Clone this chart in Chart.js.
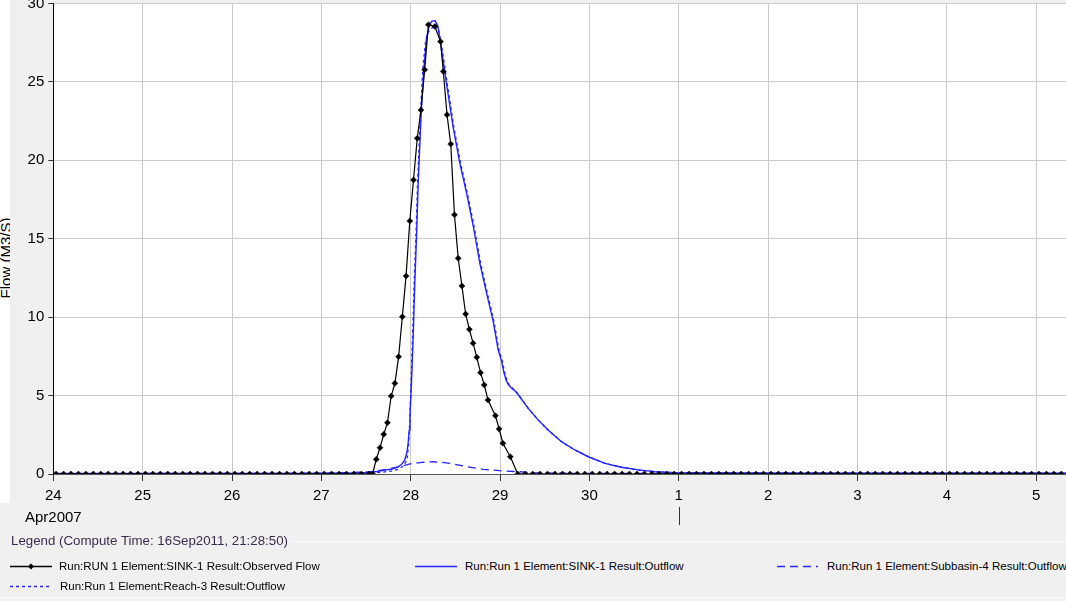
<!DOCTYPE html>
<html>
<head>
<meta charset="utf-8">
<script src="https://cdn.jsdelivr.net/npm/chart.js@4.4.1/dist/chart.umd.min.js"></script>
<style>
  html, body { margin: 0; padding: 0; }
  body { width: 1066px; height: 601px; overflow: hidden; background: #f0f0f0; position: relative; font-family: 'Liberation Sans', Arial, sans-serif; }
  #strip { position: absolute; left: 0; top: 0; width: 10px; height: 503px; background: #fff; overflow: hidden; }
  #ytitle { position: absolute; left: 6px; top: 258px; transform: translate(-50%, -50%) rotate(-90deg); white-space: nowrap; line-height: 18px; color: #000; }
  #wrap { position: absolute; left: 0; top: -20px; width: 1066px; height: 560px; }
  #apr { position: absolute; left: 25px; top: 508px; line-height: 18px; color: #000; }
  #legtitle { position: absolute; left: 11px; top: 533px; font-size: 13.3px; line-height: 16px; color: #3d2b4f; white-space: nowrap; }
  #legrule { position: absolute; left: 291px; right: 0; top: 541px; height: 1px; background: #fbfbfb; }
  #legbottom { position: absolute; left: 0; right: 0; top: 597px; height: 1px; background: #fcfcfc; }
  .item { position: absolute; height: 14px; white-space: nowrap; font-size: 11.5px; line-height: 14px; color: #000; }
  .item svg { position: absolute; left: 0; top: 0; }
  .item span { position: absolute; top: 0; }
</style>
</head>
<body>
<div id="strip"><div id="ytitle">Flow (M3/S)</div></div>
<div id="wrap"><canvas id="chart" width="1066" height="560"></canvas></div>
<div id="apr">Apr2007</div>
<div id="legtitle">Legend (Compute Time: 16Sep2011, 21:28:50)</div>
<div id="legrule"></div>
<div id="legbottom"></div>
<div id="legend"></div>
<script>
// hours after 24Apr2007 00:00
const dayLabels = ['24', '25', '26', '27', '28', '29', '30', '1', '2', '3', '4', '5'];
const monthLabel = 'Apr2007';
const monthStartHour = 168; // 1 May
const seriesNames = [
  'Run:RUN 1 Element:SINK-1 Result:Observed Flow',
  'Run:Run 1 Element:SINK-1 Result:Outflow',
  'Run:Run 1 Element:Subbasin-4 Result:Outflow',
  'Run:Run 1 Element:Reach-3 Result:Outflow'
];

const obsTime = [
  0.75, 2.75, 4.75, 6.75, 8.75, 10.75, 12.75, 14.75, 16.75, 18.75, 20.75, 22.75,
  24.75, 26.75, 28.75, 30.75, 32.75, 34.75, 36.75, 38.75, 40.75, 42.75, 44.75, 46.75,
  48.75, 50.75, 52.75, 54.75, 56.75, 58.75, 60.75, 62.75, 64.75, 66.75, 68.75, 70.75,
  72.75, 74.75, 76.75, 78.75, 80.75, 82.75, 84.75, 85.75,
  86.75, 87.75, 88.75, 89.75, 90.75, 91.75, 92.75, 93.75, 94.75, 95.75, 96.75, 97.75, 98.75, 99.75, 100.75,
  102.5, 104, 104.75, 105.75, 106.75, 107.75, 108.75, 109.75, 110.75, 111.75, 112.75, 113.75, 114.75, 115.75, 116.75,
  118.75, 119.75, 120.75, 122.75, 124.75,
  126.75, 128.75, 130.75, 132.75, 134.75, 136.75, 138.75, 140.75, 142.75, 144.75, 146.75, 148.75,
  150.75, 152.75, 154.75, 156.75, 158.75, 160.75, 162.75, 164.75, 166.75, 168.75, 170.75, 172.75,
  174.75, 176.75, 178.75, 180.75, 182.75, 184.75, 186.75, 188.75, 190.75, 192.75, 194.75, 196.75,
  198.75, 200.75, 202.75, 204.75, 206.75, 208.75, 210.75, 212.75, 214.75, 216.75, 218.75, 220.75,
  222.75, 224.75, 226.75, 228.75, 230.75, 232.75, 234.75, 236.75, 238.75, 240.75, 242.75, 244.75,
  246.75, 248.75, 250.75, 252.75, 254.75, 256.75, 258.75, 260.75, 262.75, 264.75, 266.75, 268.75,
  270.75
];
const obsFlow = [
  0, 0, 0, 0, 0, 0, 0, 0, 0, 0, 0, 0,
  0, 0, 0, 0, 0, 0, 0, 0, 0, 0, 0, 0,
  0, 0, 0, 0, 0, 0, 0, 0, 0, 0, 0, 0,
  0, 0, 0, 0, 0, 0, 0, 0,
  0.94, 1.68, 2.53, 3.27, 4.97, 5.78, 7.48, 10.03, 12.63, 16.13, 18.75, 21.4, 23.2, 25.77, 28.64,
  28.53, 27.57, 25.66, 22.9, 21.03, 16.52, 13.75, 11.99, 10.2, 9.22, 8.34, 7.44, 6.46, 5.68, 4.72,
  3.72, 2.87, 1.96, 1.1, 0,
  0, 0, 0, 0, 0, 0, 0, 0, 0, 0, 0, 0,
  0, 0, 0, 0, 0, 0, 0, 0, 0, 0, 0, 0,
  0, 0, 0, 0, 0, 0, 0, 0, 0, 0, 0, 0,
  0, 0, 0, 0, 0, 0, 0, 0, 0, 0, 0, 0,
  0, 0, 0, 0, 0, 0, 0, 0, 0, 0, 0, 0,
  0, 0, 0, 0, 0, 0, 0, 0, 0, 0, 0, 0,
  0
];

const sinkTime = [0, 60, 72, 80, 84, 87, 89, 91, 92.6, 93.5, 94.4, 95, 95.3, 95.6, 95.8, 96.2, 96.7, 97.1, 97.6, 98,
  98.5, 98.9, 99.6, 100.3, 101, 101.6, 102.5, 103, 103.4, 104.3, 105.6, 107.4, 109.2, 111, 112.8, 114.6, 116.4,
  118.1, 119.5, 120.4, 121, 121.6, 122.2, 123, 124, 124.9, 127.5, 130.2, 132.9, 136.5, 140.1, 143.7, 148.2,
  152.6, 157.1, 161.6, 166.9, 180, 200, 272];
const sinkFlow = [0.03, 0.03, 0.04, 0.06, 0.1, 0.16, 0.25, 0.32, 0.45, 0.6, 0.9, 1.4, 1.96, 2.8, 3.65, 5.8, 9.0, 12.2, 15.4, 18.5,
  21.3, 23.4, 26.0, 27.9, 28.6, 28.85, 28.9, 28.7, 28.4, 27.0, 24.9, 22.1, 19.8, 17.9, 15.8, 13.4, 11.5,
  9.8, 7.9, 7.2, 6.5, 6.0, 5.7, 5.5, 5.3, 5.05, 4.2, 3.45, 2.8, 2.06, 1.53, 1.1, 0.68,
  0.43, 0.26, 0.15, 0.09, 0.06, 0.05, 0.05];

const reachTime = [0, 72, 84, 88, 91, 92.6, 94, 95, 95.4, 95.7, 96, 96.5, 96.9, 97.4, 97.8, 98.3, 98.7, 99.3, 100,
  100.8, 101.6, 102.4, 103.2, 103.6, 104.5, 105.8, 107.6, 109.4, 111.2, 113, 114.8, 116.6, 118.3, 119.7, 120.6,
  121.2, 121.8, 122.4, 123.2, 124.2, 125.1, 127.7, 130.4, 133.1, 136.7, 140.3, 143.9, 148.4, 152.8, 157.3,
  161.8, 167.1, 180, 272];
const reachFlow = [0.02, 0.03, 0.05, 0.1, 0.2, 0.3, 0.5, 0.9, 1.8, 3.2, 5.2, 8.8, 12.0, 15.2, 18.3, 21.2, 23.4, 26.0, 27.6,
  28.2, 28.4, 28.6, 28.6, 28.2, 27.0, 24.9, 22.1, 19.8, 17.9, 15.8, 13.4, 11.5, 9.8, 7.9, 7.2,
  6.5, 6.0, 5.7, 5.5, 5.3, 5.0, 4.15, 3.4, 2.75, 2.02, 1.5, 1.08, 0.66, 0.42, 0.25,
  0.14, 0.08, 0.05, 0.04];

const subTime = [0, 72, 80, 84, 86.4, 90, 93.1, 95.8, 99, 102, 104, 106.5, 111, 115.5, 119.9, 124.8, 129.3, 140, 272];
const subFlow = [0.02, 0.05, 0.1, 0.12, 0.18, 0.32, 0.47, 0.64, 0.74, 0.78, 0.75, 0.68, 0.47, 0.3, 0.21, 0.15, 0.08, 0.04, 0.03];

const BLUE = '#2424ff';
const axisFont = { family: "'Liberation Sans'", size: 15 };
['apr', 'ytitle'].forEach(id => {
  const el = document.getElementById(id);
  el.style.fontFamily = axisFont.family;
  el.style.fontSize = axisFont.size + 'px';
});
document.getElementById('apr').textContent = monthLabel;

const pts = (t, v) => t.map((x, i) => ({ x, y: v[i] }));

const frame = {
  id: 'frame',
  beforeDraw(chart) {
    const { ctx, chartArea: a } = chart;
    ctx.save();
    ctx.fillStyle = '#fff';
    ctx.fillRect(a.left, a.top, a.right - a.left, a.bottom - a.top);
    ctx.restore();
  },
  afterDraw(chart) {
    const { ctx, chartArea: a } = chart;
    const px = Math.round(chart.scales.x.getPixelForValue(monthStartHour)) + 0.5;
    ctx.save();
    ctx.strokeStyle = '#333';
    ctx.lineWidth = 1;
    ctx.beginPath();
    ctx.moveTo(px, a.bottom + 33);
    ctx.lineTo(px, a.bottom + 51);
    ctx.stroke();
    ctx.restore();
  }
};

new Chart(document.getElementById('chart'), {
  type: 'line',
  data: {
    datasets: [
      {
        label: seriesNames[0],
        data: pts(obsTime, obsFlow),
        borderColor: '#000',
        borderWidth: 1.2,
        pointStyle: 'rectRot',
        pointRadius: 3,
        pointBackgroundColor: '#000',
        pointBorderColor: '#000',
        pointBorderWidth: 0.5,
        clip: 0
      },
      {
        label: seriesNames[1],
        data: pts(sinkTime, sinkFlow),
        borderColor: BLUE,
        borderWidth: 1.4,
        pointRadius: 0,
        clip: 0
      },
      {
        label: seriesNames[2],
        data: pts(subTime, subFlow),
        borderColor: BLUE,
        borderWidth: 1.3,
        borderDash: [8, 5],
        pointRadius: 0,
        clip: 0
      },
      {
        label: seriesNames[3],
        data: pts(reachTime, reachFlow),
        borderColor: BLUE,
        borderWidth: 1.3,
        borderDash: [3, 3],
        pointRadius: 0,
        clip: 0
      }
    ]
  },
  options: {
    responsive: false,
    animation: false,
    devicePixelRatio: 1,
    layout: { autoPadding: false, padding: { top: 23.4, right: 0, bottom: 0, left: 0 } },
    plugins: { legend: { display: false }, tooltip: { enabled: false } },
    scales: {
      x: {
        type: 'linear',
        min: 0,
        max: 272,
        afterFit(s) { s.height = 66; s.paddingLeft = 0; s.paddingRight = 0; },
        ticks: {
          stepSize: 24,
          includeBounds: false,
          autoSkip: false,
          maxRotation: 0,
          padding: 6,
          color: '#000',
          font: axisFont,
          callback: v => dayLabels[Math.round(v / 24)]
        },
        grid: { color: '#cacaca', tickColor: '#333', tickLength: 7, lineWidth: 1 },
        border: { color: '#555' }
      },
      y: {
        min: 0,
        max: 30,
        afterFit(s) { s.width = 53.3; },
        ticks: { stepSize: 5, padding: 4, color: '#000', font: axisFont },
        grid: { color: '#cacaca', tickColor: '#333', tickLength: 5, lineWidth: 1 },
        border: { color: '#000' }
      }
    }
  },
  plugins: [frame]
});

// legend
const legendItems = [
  { left: 10, top: 559, width: 42, color: '#000', dash: '', marker: true, textLeft: 49 },
  { left: 415, top: 559, width: 42, color: BLUE, dash: '', marker: false, textLeft: 50 },
  { left: 777, top: 559, width: 41, color: BLUE, dash: '8,5', marker: false, textLeft: 50 },
  { left: 10, top: 579, width: 42, color: BLUE, dash: '3,3', marker: false, textLeft: 50 }
];
const legend = document.getElementById('legend');
legendItems.forEach((it, i) => {
  const d = document.createElement('div');
  d.className = 'item';
  d.style.left = it.left + 'px';
  d.style.top = it.top + 'px';
  let svg = '<svg width="' + it.width + '" height="14"><line x1="0" y1="7.5" x2="' + it.width + '" y2="7.5" stroke="' + it.color +
    '" stroke-width="1.3"' + (it.dash ? ' stroke-dasharray="' + it.dash + '"' : '') + '/>';
  if (it.marker) svg += '<polygon points="21,4.5 24,7.5 21,10.5 18,7.5" fill="#000"/>';
  svg += '</svg>';
  d.innerHTML = svg + '<span style="left:' + it.textLeft + 'px"></span>';
  d.querySelector('span').textContent = seriesNames[i];
  legend.appendChild(d);
});
</script>
</body>
</html>
